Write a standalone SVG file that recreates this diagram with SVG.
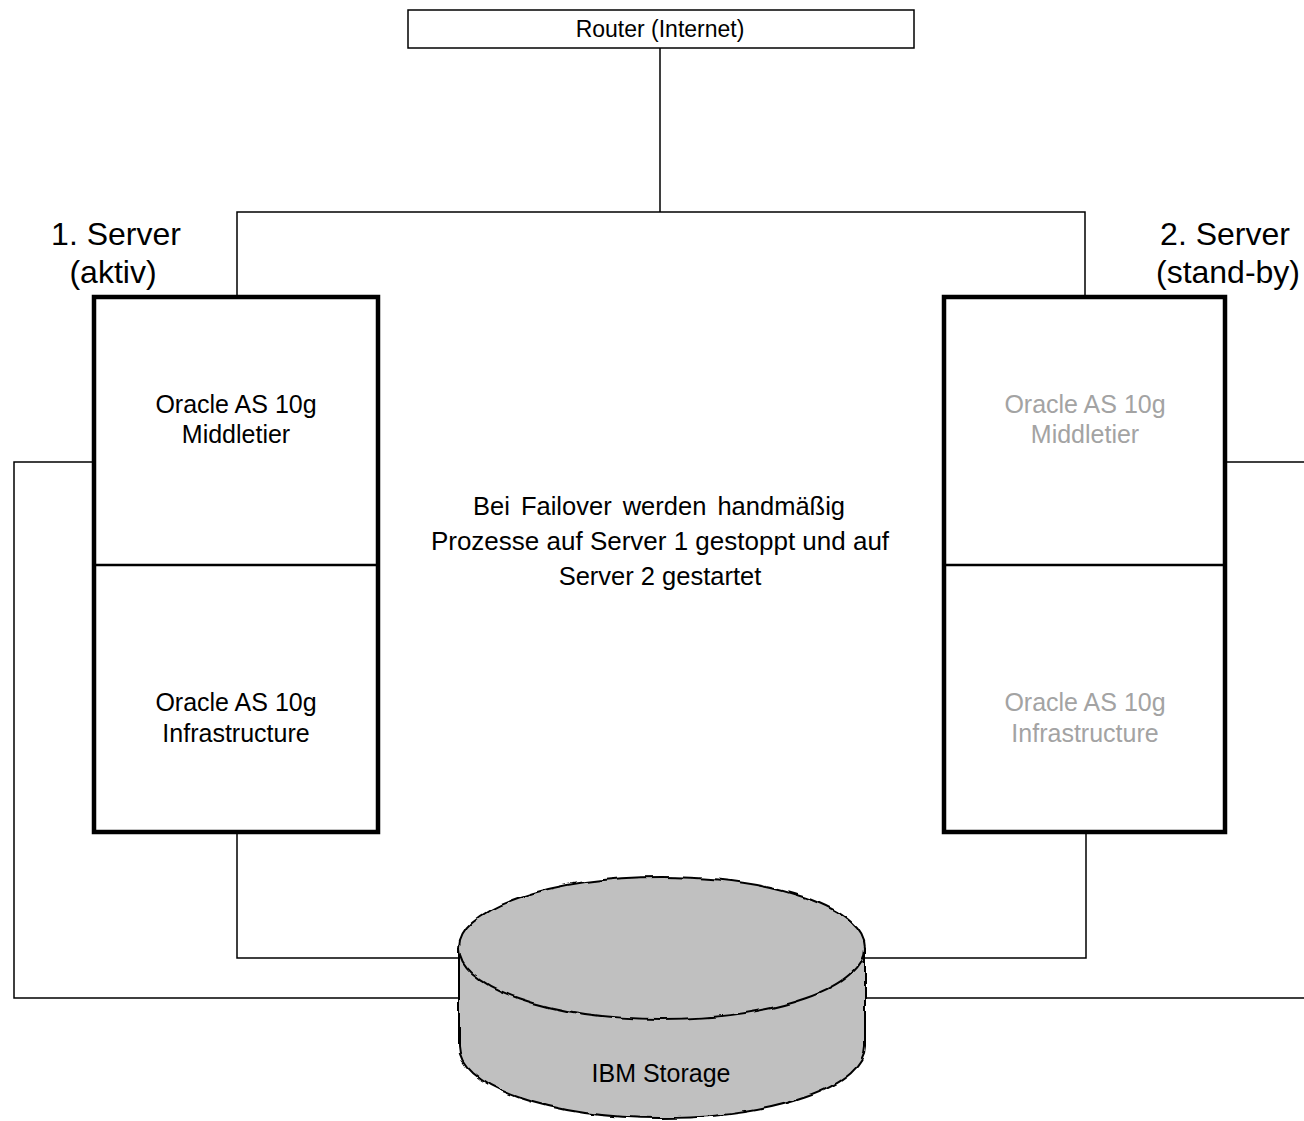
<svg xmlns="http://www.w3.org/2000/svg" width="1304" height="1121" viewBox="0 0 1304 1121">
  <style>
    .t { font-family: "Liberation Sans", Arial, sans-serif; fill: #000; text-anchor: middle; }
    .g { fill: #a3a3a3; }
    .conn { fill: none; stroke: #000; stroke-width: 1.5; }
    .srv { fill: #fff; stroke: #000; stroke-width: 4.5; }
    .div { stroke: #000; stroke-width: 2.5; }
    .cyl { fill: #c0c0c0; stroke: #000; stroke-width: 2; }
  </style>
  <defs>
    <filter id="wobble" x="-5%" y="-5%" width="110%" height="110%">
      <feTurbulence type="fractalNoise" baseFrequency="0.07" numOctaves="1" seed="3" result="n"/>
      <feDisplacementMap in="SourceGraphic" in2="n" scale="5" xChannelSelector="R" yChannelSelector="G"/>
    </filter>
  </defs>
  <rect width="1304" height="1121" fill="#fff"/>

  <g id="connectors">
    <path class="conn" d="M660,48 V212 M237,296 V212 H1085 V296"/>
    <path class="conn" d="M94,462 H14 V998 H462"/>
    <path class="conn" d="M1225,462 H1304 M863,998 H1304"/>
    <path class="conn" d="M237,834 V958 H462"/>
    <path class="conn" d="M1086,834 V958 H864"/>
  </g>

  <g id="router">
    <rect x="408" y="10" width="506" height="38" fill="#fff" stroke="#000" stroke-width="1.5"/>
    <text class="t" x="660" y="37" font-size="23">Router (Internet)</text>
  </g>

  <g id="server1">
    <text class="t" x="116" y="245" font-size="32">1. Server</text>
    <text class="t" x="113" y="283" font-size="32">(aktiv)</text>
    <rect class="srv" x="94" y="297" width="284" height="535"/>
    <line class="div" x1="94" y1="565" x2="378" y2="565"/>
    <text class="t" x="236" y="413" font-size="25">Oracle AS 10g</text>
    <text class="t" x="236" y="443" font-size="25">Middletier</text>
    <text class="t" x="236" y="711" font-size="25">Oracle AS 10g</text>
    <text class="t" x="236" y="742" font-size="25">Infrastructure</text>
  </g>

  <g id="server2">
    <text class="t" x="1225" y="245" font-size="32">2. Server</text>
    <text class="t" x="1228" y="283" font-size="32">(stand-by)</text>
    <rect class="srv" x="944" y="297" width="281" height="535"/>
    <line class="div" x1="944" y1="565" x2="1225" y2="565"/>
    <text class="t g" x="1085" y="413" font-size="25">Oracle AS 10g</text>
    <text class="t g" x="1085" y="443" font-size="25">Middletier</text>
    <text class="t g" x="1085" y="711" font-size="25">Oracle AS 10g</text>
    <text class="t g" x="1085" y="742" font-size="25">Infrastructure</text>
  </g>

  <g id="note">
    <text class="t" x="659" y="515" font-size="25.5" word-spacing="4">Bei Failover werden handmäßig</text>
    <text class="t" x="660" y="550" font-size="26">Prozesse auf Server 1 gestoppt und auf</text>
    <text class="t" x="660" y="585" font-size="25.5">Server 2 gestartet</text>
  </g>

  <g id="storage">
    <g filter="url(#wobble)">
      <path class="cyl" d="M459,948 V1047 A203,71 0 0 0 865,1047 V948 Z"/>
      <ellipse class="cyl" cx="662" cy="948" rx="203" ry="71"/>
    </g>
    <text class="t" x="661" y="1082" font-size="25">IBM Storage</text>
  </g>
</svg>
